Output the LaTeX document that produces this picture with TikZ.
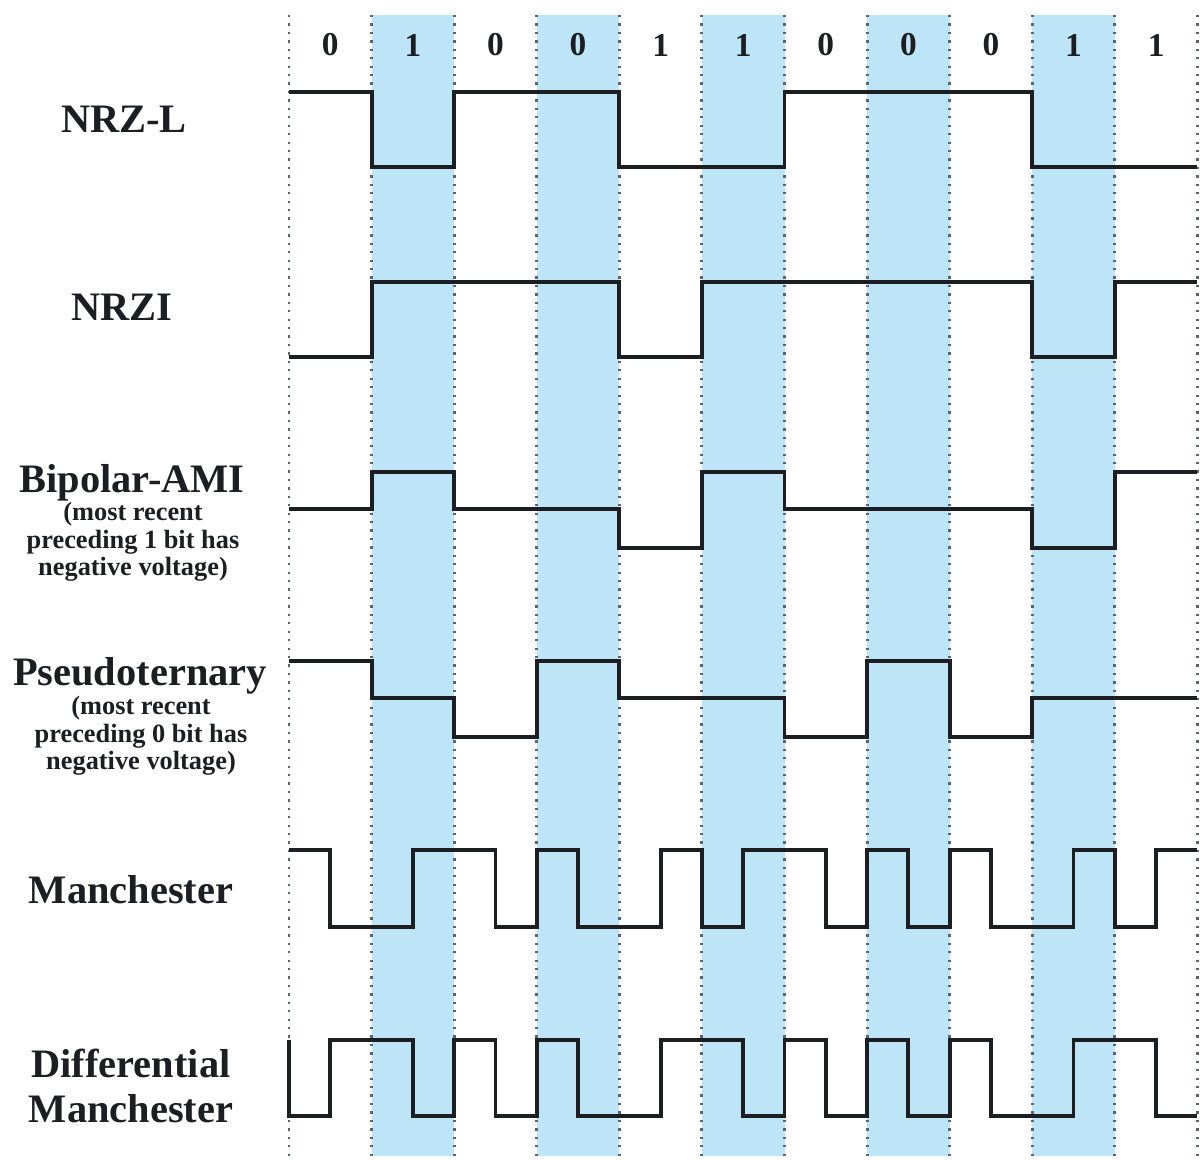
\documentclass[tikz,border=0pt]{standalone}
\usepackage{fontspec}
\setmainfont{Liberation Serif}
\usepackage{tikz}
\usetikzlibrary{positioning}
\definecolor{SHADE_BLUE}{HTML}{BEE4F8}
\definecolor{GRID_GRAY}{HTML}{5A6470}
\definecolor{SIG_BLACK}{HTML}{1C1E22}

\begin{document}
\begin{tikzpicture}[x=0.02cm, y=-0.02cm,
    signal/.style={line width=2.2pt, draw=SIG_BLACK, line join=miter},
    gridline/.style={line width=1.7pt, draw=GRID_GRAY, dash pattern=on 1.3pt off 3.5pt},
    bitval/.style={font=\fontsize{19}{19}\selectfont\bfseries, text=SIG_BLACK},
    codename/.style={font=\fontsize{23}{23}\selectfont\bfseries, text=SIG_BLACK, anchor=base},
    codenote/.style={font=\fontsize{15}{15.6}\selectfont\bfseries, text=SIG_BLACK, align=center}]
  \useasboundingbox (0,0) rectangle (1204,1160);

  % bit cells: x in bit periods, y in pixels
  \begin{scope}[shift={(289,0)}, x=1.652cm]
    % shaded bit periods
    \foreach \i in {1,3,5,7,9}
      \fill[SHADE_BLUE] (\i,15) rectangle (\i+1,1156);

    % period boundaries
    \foreach \i in {0,...,11}
      \draw[gridline] (\i,15) -- (\i,1158);

    % bit values
    \foreach \b [count=\i from 0] in {0,1,0,0,1,1,0,0,0,1,1}
      \node[bitval] (bit\i) at (\i+0.5,45) {\b};

    % NRZ-L
    \draw[signal] (0,92) -- (1,92) -- (1,167) -- (2,167) -- (2,92) -- (4,92) -- (4,167)
      -- (6,167) -- (6,92) -- (9,92) -- (9,167) -- (11,167);

    % NRZI
    \draw[signal] (0,357) -- (1,357) -- (1,282) -- (4,282) -- (4,357) -- (5,357) -- (5,282)
      -- (9,282) -- (9,357) -- (10,357) -- (10,282) -- (11,282);

    % Bipolar-AMI
    \draw[signal] (0,509) -- (1,509) -- (1,472) -- (2,472) -- (2,509) -- (4,509) -- (4,548)
      -- (5,548) -- (5,472) -- (6,472) -- (6,509) -- (9,509) -- (9,548) -- (10,548)
      -- (10,472) -- (11,472);

    % Pseudoternary
    \draw[signal] (0,661) -- (1,661) -- (1,698) -- (2,698) -- (2,737) -- (3,737) -- (3,661)
      -- (4,661) -- (4,698) -- (6,698) -- (6,737) -- (7,737) -- (7,661) -- (8,661)
      -- (8,737) -- (9,737) -- (9,698) -- (11,698);

    % Manchester
    \draw[signal] (0,850) -- (0.5,850) -- (0.5,927) -- (1.5,927) -- (1.5,850) -- (2.5,850)
      -- (2.5,927) -- (3,927) -- (3,850) -- (3.5,850) -- (3.5,927) -- (4.5,927) -- (4.5,850)
      -- (5,850) -- (5,927) -- (5.5,927) -- (5.5,850) -- (6.5,850) -- (6.5,927) -- (7,927)
      -- (7,850) -- (7.5,850) -- (7.5,927) -- (8,927) -- (8,850) -- (8.5,850) -- (8.5,927)
      -- (9.5,927) -- (9.5,850) -- (10,850) -- (10,927) -- (10.5,927) -- (10.5,850) -- (11,850);

    % Differential Manchester
    \draw[signal] (0,1040) -- (0,1116) -- (0.5,1116) -- (0.5,1040) -- (1.5,1040) -- (1.5,1116)
      -- (2,1116) -- (2,1040) -- (2.5,1040) -- (2.5,1116) -- (3,1116) -- (3,1040) -- (3.5,1040)
      -- (3.5,1116) -- (4.5,1116) -- (4.5,1040) -- (5.5,1040) -- (5.5,1116) -- (6,1116)
      -- (6,1040) -- (6.5,1040) -- (6.5,1116) -- (7,1116) -- (7,1040) -- (7.5,1040)
      -- (7.5,1116) -- (8,1116) -- (8,1040) -- (8.5,1040) -- (8.5,1116) -- (9.5,1116)
      -- (9.5,1040) -- (10.5,1040) -- (10.5,1116) -- (11,1116);
  \end{scope}

  % Labels
  \node[codename] (nrzl) at (124,132) {NRZ-L};
  \node[codename] (nrzi) at (122,320) {NRZI};
  \node[codename] (ami) at (132,492) {Bipolar-AMI};
  \node[codenote] (aminote) at (133,542) {(most recent\\preceding 1 bit has\\negative voltage)};
  \node[codename] (pseudo) at (140,685) {Pseudoternary};
  \node[codenote] (pseudonote) at (141,736) {(most recent\\preceding 0 bit has\\negative voltage)};
  \node[codename] (manch) at (131,903) {Manchester};
  \node[codename] (diffmanch) at (131,1077) {Differential};
  \node[codename] (diffmanch2) at (131,1122) {Manchester};
\end{tikzpicture}
\end{document}
